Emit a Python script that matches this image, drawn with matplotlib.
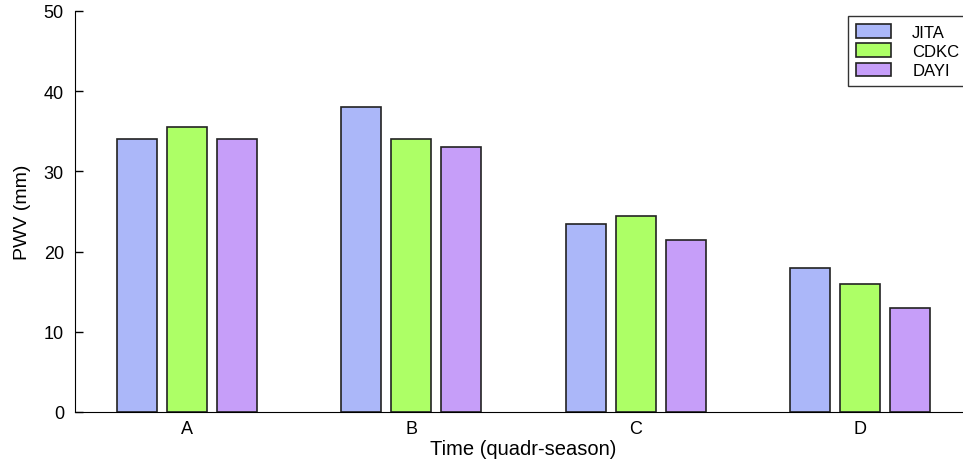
import numpy as np
import matplotlib.pyplot as plt

plt.rcParams['font.family'] = ['Liberation Sans', 'DejaVu Sans']

seasons = ['A', 'B', 'C', 'D']
jita = [34, 38, 23.5, 18]
cdkc = [35.5, 34, 24.5, 16]
dayi = [34, 33, 21.5, 13]

series = [('JITA', jita, '#abb7f9'),
          ('CDKC', cdkc, '#adff66'),
          ('DAYI', dayi, '#c69ef9')]

fig = plt.figure(figsize=(9.63, 4.64), dpi=100)
ax = fig.add_axes([75 / 963, 51 / 464, 897 / 963, 401 / 464])

x = np.arange(len(seasons))
width = 0.178
step = 0.223
for i, (name, vals, color) in enumerate(series):
    ax.bar(x + (i - 1) * step, vals, width, color=color, edgecolor='#222222',
           linewidth=1.2, label=name, zorder=2)

ax.set_xlim(-0.5, 3.5)
ax.set_ylim(0, 50)
ax.set_yticks([0, 10, 20, 30, 40, 50])
ax.set_xticks(x)
ax.set_xticklabels(seasons)
ax.tick_params(axis='y', direction='in', length=6, width=1, labelsize=13, pad=8)
ax.tick_params(axis='x', length=0, labelsize=13, pad=6)
ax.spines['top'].set_visible(False)
ax.spines['right'].set_visible(False)

ax.set_xlabel('Time (quadr-season)', fontsize=14.5, labelpad=1)
ax.set_ylabel('PWV (mm)', fontsize=14, labelpad=9)

# legend box runs slightly past the right edge of the figure
leg = ax.legend(loc='upper left', bbox_to_anchor=(848 / 963, 1 - 17 / 464),
                bbox_transform=fig.transFigure, fontsize=12, frameon=True,
                fancybox=False, edgecolor='black', handlelength=2.05,
                handleheight=0.85, handletextpad=1.3, labelspacing=0.22,
                borderpad=0.5, borderaxespad=0)
leg.get_frame().set_linewidth(1.0)

fig.savefig('out.png', dpi=100)
